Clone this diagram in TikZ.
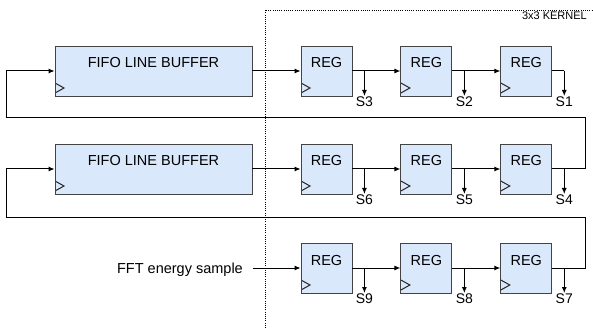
\documentclass[tikz,border=0pt]{standalone}
\usepackage{fontspec}
\setmainfont{Liberation Sans}
\usetikzlibrary{arrows.meta,positioning}
\definecolor{regfill}{RGB}{218,232,252}
\definecolor{regdraw}{RGB}{67,67,67}
\newcommand{\lbl}{\fontsize{14.5}{17}\selectfont}

\begin{document}
\begin{tikzpicture}[x=1pt,y=-1pt,node distance=48pt,
        blk/.style={rectangle,draw=regdraw,fill=regfill,line width=0.9pt,
          inner xsep=0pt,inner ysep=0pt,text height=22pt,text depth=28pt,font=\lbl,
          path picture={\draw[black!85,line width=1pt]
            ([yshift=3pt]path picture bounding box.south west)
            -- ++(9pt,5pt) -- ++(-9pt,5pt);}},
        reg/.style={blk,minimum width=51pt},
        fifo/.style={blk,minimum width=197pt},
        slbl/.style={inner sep=1pt,font=\fontsize{14}{16}\selectfont,anchor=north},
        wire/.style={line width=1pt},
        arr/.style={wire,-{Latex[length=6pt,width=5pt]}}]
  \useasboundingbox (0,0) rectangle (593,328);

  % kernel window
  \draw[line width=0.8pt,dash pattern=on 1pt off 1.2pt] (265,328) |- (593,10);
  \node[font=\fontsize{11}{13}\selectfont,anchor=north east,inner sep=0pt] (kern) at (587,12) {3x3 KERNEL};

  % row 1
  \node[fifo] (fifo1) at (153.5,71) {FIFO LINE BUFFER};
  \node[reg] (r1) at (326.5,71) {REG};
  \node[reg,right=of r1] (r2) {REG};
  \node[reg,right=of r2] (r3) {REG};

  % row 2
  \node[fifo] (fifo2) at (153.5,169) {FIFO LINE BUFFER};
  \node[reg] (r4) at (326.5,169) {REG};
  \node[reg,right=of r4] (r5) {REG};
  \node[reg,right=of r5] (r6) {REG};

  % row 3
  \node[font=\lbl,inner xsep=10pt,inner ysep=0pt,text height=10.4pt,text depth=0pt,anchor=east] (fft) at (253,268) {FFT energy sample};
  \node[reg] (r7) at (326.5,268) {REG};
  \node[reg,right=of r7] (r8) {REG};
  \node[reg,right=of r8] (r9) {REG};

  % taps
  \coordinate (t1) at ([xshift=12pt]r1.east);
  \coordinate (t2) at ([xshift=12pt]r2.east);
  \coordinate (t3) at ([xshift=12pt]r3.east);
  \coordinate (t4) at ([xshift=12pt]r4.east);
  \coordinate (t5) at ([xshift=12pt]r5.east);
  \coordinate (t6) at ([xshift=12pt]r6.east);
  \coordinate (t7) at ([xshift=12pt]r7.east);
  \coordinate (t8) at ([xshift=12pt]r8.east);
  \coordinate (t9) at ([xshift=12pt]r9.east);
  \node[slbl] (s3) at ([yshift=-25pt]t1) {S3};
  \node[slbl] (s2) at ([yshift=-25pt]t2) {S2};
  \node[slbl] (s1) at ([yshift=-25pt]t3) {S1};
  \node[slbl] (s6) at ([yshift=-25pt]t4) {S6};
  \node[slbl] (s5) at ([yshift=-25pt]t5) {S5};
  \node[slbl] (s4) at ([yshift=-25pt]t6) {S4};
  \node[slbl] (s9) at ([yshift=-25pt]t7) {S9};
  \node[slbl] (s8) at ([yshift=-25pt]t8) {S8};
  \node[slbl] (s7) at ([yshift=-25pt]t9) {S7};

  \coordinate (fb1) at (585,118);
  \coordinate (fb2) at (585,218);

  \draw[arr] (fifo1) -- (r1);
  \draw[arr] (r1) -- (r2);
  \draw[arr] (r2) -- (r3);
  \draw[wire] (r3) -- (t3);
  \draw[arr] (fifo2) -- (r4);
  \draw[arr] (r4) -- (r5);
  \draw[arr] (r5) -- (r6);
  \draw[arr] (fft) -- (r7);
  \draw[arr] (r7) -- (r8);
  \draw[arr] (r8) -- (r9);

  \draw[arr] (t1) -- (s3);
  \draw[arr] (t2) -- (s2);
  \draw[arr] (t3) -- (s1);
  \draw[arr] (t4) -- (s6);
  \draw[arr] (t5) -- (s5);
  \draw[arr] (t6) -- (s4);
  \draw[arr] (t7) -- (s9);
  \draw[arr] (t8) -- (s8);
  \draw[arr] (t9) -- (s7);

  % line feedback
  \draw[arr] (r6) -| (fb1) -| ([xshift=-48pt]fifo1.west) -- (fifo1);
  \draw[arr] (r9) -| (fb2) -| ([xshift=-48pt]fifo2.west) -- (fifo2);
\end{tikzpicture}
\end{document}
